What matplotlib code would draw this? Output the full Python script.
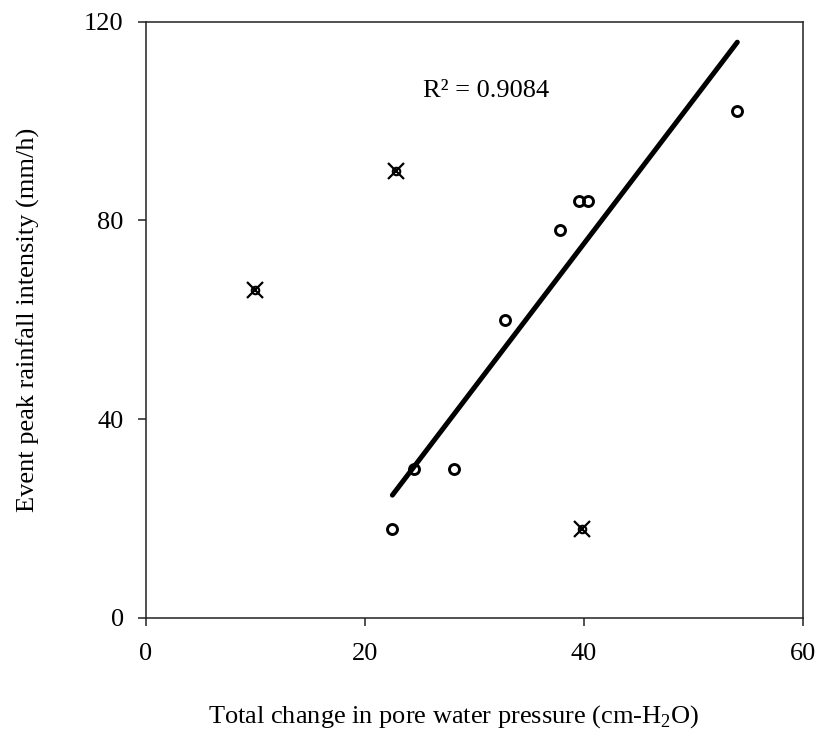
import numpy as np
import matplotlib
matplotlib.use("Agg")
import matplotlib.pyplot as plt

plt.rcParams['font.family'] = ['Liberation Serif', 'DejaVu Serif']
plt.rcParams['mathtext.fontset'] = 'custom'
plt.rcParams['mathtext.rm'] = 'Liberation Serif'

# Events included in the regression
pwp_change = [22.5, 24.5, 28.1, 32.8, 37.8, 39.5, 40.4, 54.0]
peak_intensity = [18, 30, 30, 60, 78, 84, 84, 102]

# Events excluded from the regression (outliers)
pwp_excluded = [10.0, 22.8, 39.8]
intensity_excluded = [66, 90, 18]

r2_label = "R² = 0.9084"
x_ticks = [0, 20, 40, 60]
y_ticks = [0, 40, 80, 120]

fig = plt.figure(figsize=(8.22, 7.41), dpi=100)
ax = fig.add_axes([0.1776, 0.166, 0.7993, 0.8047])

# Linear least-squares fit through included events
slope, intercept = np.polyfit(pwp_change, peak_intensity, 1)
xf = np.array([min(pwp_change), max(pwp_change)])
ax.plot(xf, slope * xf + intercept, color='black', lw=3.6,
        solid_capstyle='round', zorder=2)

ax.plot(pwp_change, peak_intensity, linestyle='none', marker='o',
        markersize=7.2, markerfacecolor='none', markeredgecolor='black',
        markeredgewidth=2.1, zorder=3)

ax.plot(pwp_excluded, intensity_excluded, linestyle='none', marker='o',
        markersize=5.4, markerfacecolor='none', markeredgecolor='black',
        markeredgewidth=1.5, zorder=3)
ax.plot(pwp_excluded, intensity_excluded, linestyle='none', marker='x',
        markersize=11.5, markeredgecolor='black', markeredgewidth=1.6, zorder=3)

ax.text(25.3, 104.8, r2_label, fontsize=19, ha='left', va='baseline')

ax.set_xlim(0, 60)
ax.set_ylim(0, 120)
ax.set_xticks(x_ticks)
ax.set_yticks(y_ticks)
ax.tick_params(axis='both', direction='out', length=6, width=1.1,
               labelsize=19, top=False, right=False, color='#222222')
ax.tick_params(axis='x', pad=12)
ax.tick_params(axis='y', pad=10)
for s in ax.spines.values():
    s.set_linewidth(1.1)
    s.set_color('#222222')

ax.set_xlabel("Total change in pore water pressure (cm-H$_2$O)", fontsize=19)
ax.xaxis.set_label_coords(0.469, -0.143)
ax.set_ylabel("Event peak rainfall intensity (mm/h)", fontsize=19, labelpad=32)

fig.savefig("out.png", dpi=100)
